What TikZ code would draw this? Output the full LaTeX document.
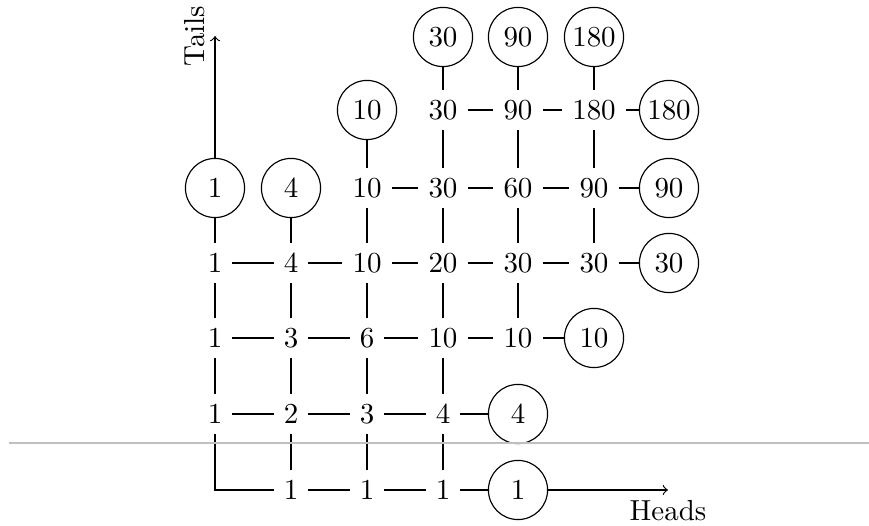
\documentclass[tikz,border=0pt]{standalone}
\begin{document}
\begin{tikzpicture}[x=0.345pt,y=-0.345pt,
  num/.style={inner sep=3.333pt},
  cnum/.style={circle,draw,minimum size=20.4pt,inner sep=0pt},
  link/.style={draw,line width=0.4pt},
  axisarrow/.style={draw,->,line width=0.4pt},
  guide/.style={draw,gray!50,line width=0.4pt}]
\useasboundingbox (0,0) rectangle (869,526);
% row 0
\node[num]  (n10) at (291,490) {1};
\node[num]  (n20) at (367,490) {1};
\node[num]  (n30) at (443,490) {1};
\node[cnum] (c40) at (518,490) {1};
% row 1
\node[num]  (n01) at (215,414) {1};
\node[num]  (n11) at (291,414) {2};
\node[num]  (n21) at (367,414) {3};
\node[num]  (n31) at (443,414) {4};
\node[cnum] (c41) at (518,414) {4};
% row 2
\node[num]  (n02) at (215,338) {1};
\node[num]  (n12) at (291,338) {3};
\node[num]  (n22) at (367,338) {6};
\node[num]  (n32) at (443,338) {10};
\node[num]  (n42) at (518,338) {10};
\node[cnum] (c52) at (594,338) {10};
% row 3
\node[num]  (n03) at (215,263) {1};
\node[num]  (n13) at (291,263) {4};
\node[num]  (n23) at (367,263) {10};
\node[num]  (n33) at (443,263) {20};
\node[num]  (n43) at (518,263) {30};
\node[num]  (n53) at (594,263) {30};
\node[cnum] (c63) at (669,263) {30};
% row 4
\node[cnum] (c04) at (215,188) {1};
\node[cnum] (c14) at (291,188) {4};
\node[num]  (n24) at (367,188) {10};
\node[num]  (n34) at (443,188) {30};
\node[num]  (n44) at (518,188) {60};
\node[num]  (n54) at (594,188) {90};
\node[cnum] (c64) at (669,188) {90};
% row 5
\node[cnum] (c25) at (367,110) {10};
\node[num]  (n35) at (443,110) {30};
\node[num]  (n45) at (518,110) {90};
\node[num]  (n55) at (594,110) {180};
\node[cnum] (c65) at (669,110) {180};
% row 6
\node[cnum] (c36) at (443,37) {30};
\node[cnum] (c46) at (518,37) {90};
\node[cnum] (c56) at (594,37) {180};
% horizontal links
\path[link] (n01) |- (n10);
\path[link] (n10) -- (n20) -- (n30) -- (c40);
\path[link] (n01) -- (n11) -- (n21) -- (n31) -- (c41);
\path[link] (n02) -- (n12) -- (n22) -- (n32) -- (n42) -- (c52);
\path[link] (n03) -- (n13) -- (n23) -- (n33) -- (n43) -- (n53) -- (c63);
\path[link] (n24) -- (n34) -- (n44) -- (n54) -- (c64);
\path[link] (n35) -- (n45) -- (n55) -- (c65);
% vertical links
\path[link] (c04) -- (n03) -- (n02) -- (n01);
\path[link] (c14) -- (n13) -- (n12) -- (n11) -- (n10);
\path[link] (c25) -- (n24) -- (n23) -- (n22) -- (n21) -- (n20);
\path[link] (c36) -- (n35) -- (n34) -- (n33) -- (n32) -- (n31) -- (n30);
\path[link] (c46) -- (n45) -- (n44) -- (n43) -- (n42);
\path[link] (c56) -- (n55) -- (n54) -- (n53);
% axes
\coordinate (tailend) at (215,36);
\coordinate (headend) at (668,490);
\path[axisarrow] (c04) -- (tailend) node[above,rotate=90] {Tails};
\path[axisarrow] (c40) -- (headend) node[below] {Heads};
% faint guide line
\coordinate (gl) at (9,443);
\coordinate (gr) at (869,443);
\path[guide] (gl) -- (gr);
\end{tikzpicture}
\end{document}
